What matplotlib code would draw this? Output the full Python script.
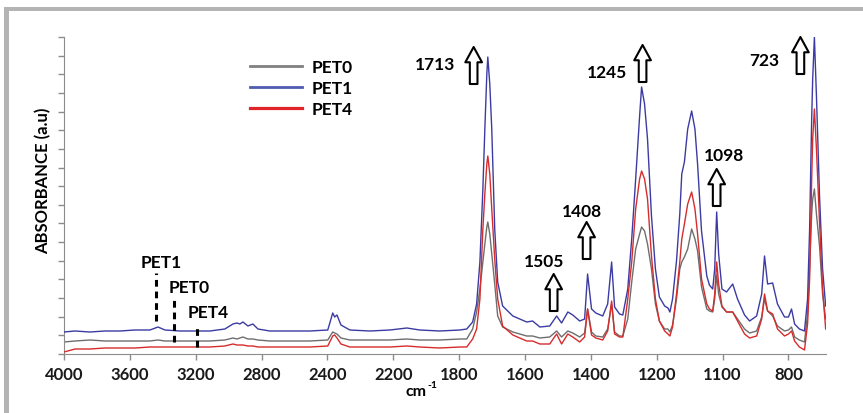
import numpy as np
import matplotlib
matplotlib.use('Agg')
import matplotlib.pyplot as plt
from matplotlib.lines import Line2D
from matplotlib.patches import Rectangle

plt.rcParams['font.family'] = ['Lato', 'DejaVu Sans']

# wavenumbers (cm-1) and absorbance (a.u.)
wavenumber = [4000, 3933, 3842, 3751, 3660, 3569, 3478, 3429, 3387, 3296, 3205, 3114, 3023,
              2974, 2950, 2932, 2913, 2883, 2853, 2822, 2750, 2628, 2507, 2399, 2384, 2378,
              2371, 2359, 2332, 2271, 2210, 2118, 2039, 1918, 1798, 1777, 1759, 1747, 1737,
              1728, 1722, 1716, 1713, 1707, 1701, 1692, 1683, 1668, 1637, 1595, 1577, 1555,
              1525, 1504, 1489, 1470, 1455, 1434, 1419, 1410, 1398, 1385, 1364, 1349, 1337,
              1328, 1313, 1303, 1288, 1276, 1264, 1252, 1246, 1237, 1228, 1216, 1204, 1196,
              1188, 1183, 1180, 1176, 1170, 1165, 1162, 1158, 1153, 1147, 1142, 1138, 1132,
              1124, 1120, 1115, 1112, 1109, 1106, 1101, 1082, 1054, 1032, 1000, 977, 945,
              922, 909, 895, 872, 850, 818, 800, 791, 782, 768, 753, 744, 738, 732, 729, 724,
              718, 709, 700, 691]

pet1 = [2.2, 2.3, 2.2, 2.3, 2.3, 2.4, 2.4, 2.7, 2.4, 2.3, 2.3, 2.3, 2.5,
        3.0, 3.1, 3.0, 3.2, 2.8, 3.0, 2.5, 2.3, 2.3, 2.3, 2.4, 4.1, 3.7,
        3.9, 2.9, 2.4, 2.3, 2.4, 2.6, 2.4, 2.3, 2.4, 2.5, 3.2, 5.0, 9.2,
        16.5, 22.5, 28.0, 29.7, 27.0, 22.5, 12.5, 7.2, 4.8, 3.8, 3.2, 3.3, 2.7,
        2.8, 3.8, 3.1, 4.2, 3.9, 3.3, 3.5, 8.0, 4.5, 4.1, 3.8, 5.0, 9.2,
        4.7, 4.0, 3.9, 6.5, 11.5, 17.5, 23.8, 26.7, 25.0, 21.5, 13.8, 8.5, 5.7,
        4.8, 4.6, 4.2, 5.5, 9.3, 14.0, 18.0, 19.2, 22.5, 24.3, 22.5, 19.0, 12.3,
        7.8, 6.9, 6.5, 8.5, 14.2, 10.0, 6.5, 6.2, 7.0, 5.5, 3.9, 3.3, 3.8,
        6.0, 9.8, 7.0, 7.1, 5.0, 3.7, 3.7, 4.5, 3.0, 2.5, 2.3, 5.5, 12.5, 23.5, 27.5, 31.7,
        25.8, 15.8, 8.5, 4.8]

pet0 = [1.2, 1.3, 1.4, 1.3, 1.3, 1.3, 1.3, 1.4, 1.3, 1.3, 1.3, 1.3, 1.4,
        1.6, 1.5, 1.6, 1.7, 1.5, 1.5, 1.4, 1.3, 1.3, 1.3, 1.4, 2.2, 2.1,
        2.0, 1.6, 1.4, 1.4, 1.4, 1.5, 1.4, 1.4, 1.5, 1.5, 2.5, 4.2, 6.5,
        9.2, 11.0, 12.7, 13.2, 12.0, 10.0, 7.0, 3.8, 2.7, 2.2, 1.8, 1.8, 1.6,
        1.7, 2.3, 1.7, 2.3, 2.1, 1.7, 2.1, 4.5, 2.2, 1.8, 1.7, 2.5, 5.0,
        2.2, 1.8, 1.8, 3.5, 7.2, 10.5, 12.0, 12.7, 12.3, 11.0, 8.5, 5.0, 3.3,
        2.5, 2.5, 2.2, 2.9, 5.5, 8.5, 9.2, 9.7, 10.5, 12.5, 11.5, 10.3, 6.7,
        4.5, 4.3, 4.2, 5.5, 7.9, 6.0, 4.7, 4.2, 4.2, 3.5, 2.5, 2.1, 2.3,
        3.7, 5.5, 4.3, 3.8, 2.8, 2.3, 2.4, 2.7, 1.7, 1.4, 1.2, 4.0, 8.5, 14.0, 15.5, 16.5,
        14.0, 10.8, 6.0, 3.5]

pet4 = [0.2, 0.5, 0.5, 0.6, 0.6, 0.6, 0.7, 0.7, 0.7, 0.7, 0.7, 0.7, 0.8,
        1.0, 0.9, 0.9, 0.9, 0.8, 0.8, 0.7, 0.7, 0.7, 0.7, 0.8, 1.8, 1.9,
        1.6, 1.0, 0.7, 0.7, 0.7, 0.8, 0.7, 0.6, 0.7, 0.7, 1.5, 2.5, 5.5,
        12.5, 16.0, 19.0, 19.8, 18.0, 14.5, 9.5, 5.5, 2.8, 1.9, 1.3, 1.3, 1.0,
        1.0, 2.0, 1.0, 2.0, 1.7, 1.2, 1.7, 4.5, 1.9, 1.6, 1.4, 2.3, 5.3,
        2.0, 1.7, 1.7, 5.5, 9.2, 14.5, 17.5, 18.3, 17.5, 15.5, 9.8, 5.5, 3.3,
        2.3, 2.0, 1.8, 2.7, 6.0, 9.2, 11.5, 13.0, 15.0, 16.2, 14.5, 12.0, 7.5,
        5.0, 4.5, 4.3, 6.0, 9.2, 7.0, 4.8, 4.2, 4.2, 3.3, 2.0, 1.6, 1.8,
        3.5, 6.0, 4.3, 4.0, 2.5, 1.8, 2.0, 2.3, 1.3, 0.7, 0.4, 3.0, 7.5, 17.5, 21.5, 24.5,
        20.5, 13.2, 6.5, 2.5]

# x axis of the original: equally spaced labels with uneven steps
tick_wn = [4000, 3600, 3200, 2800, 2400, 2200, 1800, 1600, 1400, 1200, 1100, 800]
tick_labels = ['4000', '3600', '3200', '2800', '2400', '2200', '1800', '1600',
               '1400', '1200', '1100', '800']

# peak labels: text, arrow wavenumber, arrow base, text wavenumber, text height
peaks = [('1713', 1756, 27.0, 1948, 29.0), ('1245', 1243, 27.2, 1352, 28.2),
         ('1408', 1413, 9.5, 1428, 14.3), ('1505', 1513, 4.3, 1543, 9.3),
         ('1098', 1109, 14.8, 1095, 19.9), ('723', 765, 28.0, 909, 29.4)]

# dashed markers: name, wavenumber, top, bottom, text wavenumber, text height
marks = [('PET1', 3442, 8.1, 3.3, 3412, 9.2), ('PET0', 3332, 5.5, 1.2, 3242, 6.7),
         ('PET4', 3193, 3.0, 0.7, 3126, 4.2)]

# scale: each labelled step gets the same width
anchor_wn = np.array(tick_wn + [690], dtype=float)
anchor_pos = np.array(list(range(len(tick_wn))) + [11.57])


def forward(x):
    return -np.interp(x, anchor_wn[::-1], anchor_pos[::-1])


def inverse(p):
    return np.interp(-p, anchor_pos, anchor_wn)


fig = plt.figure(figsize=(8.63, 4.14), dpi=100)
ax = fig.add_axes([64/863, 1-355/414, 762/863, 317/414])
ax.set_xscale('function', functions=(forward, inverse))

ax.plot(wavenumber, pet0, color='#6e6e6e', lw=1.0, zorder=2)
ax.plot(wavenumber, pet1, color='#3b3ba3', lw=1.0, zorder=3)
ax.plot(wavenumber, pet4, color='#d62c2c', lw=1.0, zorder=4)

ax.set_xlim(4000, 690)
ax.set_ylim(0, 31.7)
ax.set_xticks(tick_wn)
ax.set_xticklabels(tick_labels, fontsize=12, fontweight='bold', color='#1a1a1a')
ax.xaxis.set_minor_locator(matplotlib.ticker.NullLocator())
ax.set_yticks(np.linspace(0, 31.7, 18))
ax.set_yticklabels([])
ax.tick_params(axis='both', direction='out', length=4, color='#8c8c8c', width=1)
ax.tick_params(axis='x', pad=5)
for s in ['top', 'right']:
    ax.spines[s].set_visible(False)
for s in ['left', 'bottom']:
    ax.spines[s].set_color('#8c8c8c')

ax.set_ylabel('ABSORBANCE (a.u)', fontsize=12, fontweight='bold')
ax.yaxis.set_label_coords(-0.016, 0.55)
fig.text(426/863, 1-392/414, 'cm', fontsize=11.5, fontweight='bold', va='center', ha='right')
fig.text(427.5/863, 1-386/414, '-1', fontsize=7.5, fontweight='bold', va='center', ha='left')

for name, xw, ytop, ybot, xt, yt in marks:
    ax.plot([xw, xw], [ybot, ytop], color='black', lw=2.2, ls=(0, (2.2, 1.6)), zorder=5)
    ax.text(xt, yt, name, fontsize=12.5, fontweight='bold', ha='center', va='center')

for label, xa, yb, xt, yt in peaks:
    ax.annotate('', xy=(xa, yb + 3.7), xytext=(xa, yb),
                arrowprops=dict(arrowstyle='simple,head_length=11,head_width=12,tail_width=5.5',
                                mutation_scale=1, fc='white', ec='black', lw=1.5,
                                shrinkA=0, shrinkB=0), zorder=6)
    ax.text(xt, yt, label, fontsize=12.5, fontweight='bold', ha='center', va='center')

handles = [Line2D([], [], color='#808080', lw=2),
           Line2D([], [], color='#4f5cb0', lw=2),
           Line2D([], [], color='#e0242a', lw=2.3)]
leg = ax.legend(handles, ['PET0', 'PET1', 'PET4'], loc='upper left',
                bbox_to_anchor=(250/863, 1-60/414), bbox_transform=fig.transFigure,
                frameon=False, prop={'size': 12.5, 'weight': 'bold'},
                handlelength=3.0, handletextpad=0.55, labelspacing=0.3,
                borderpad=0, borderaxespad=0)

# grey frame edges of the original figure
fig.add_artist(Rectangle((4/863, 1-12/414), 859/863, 4/414, transform=fig.transFigure,
                         color='#b4b4b4', lw=0))
fig.add_artist(Rectangle((4/863, 0), 5/863, 1-8/414, transform=fig.transFigure,
                         color='#b4b4b4', lw=0))

fig.savefig('out.png', dpi=100)
